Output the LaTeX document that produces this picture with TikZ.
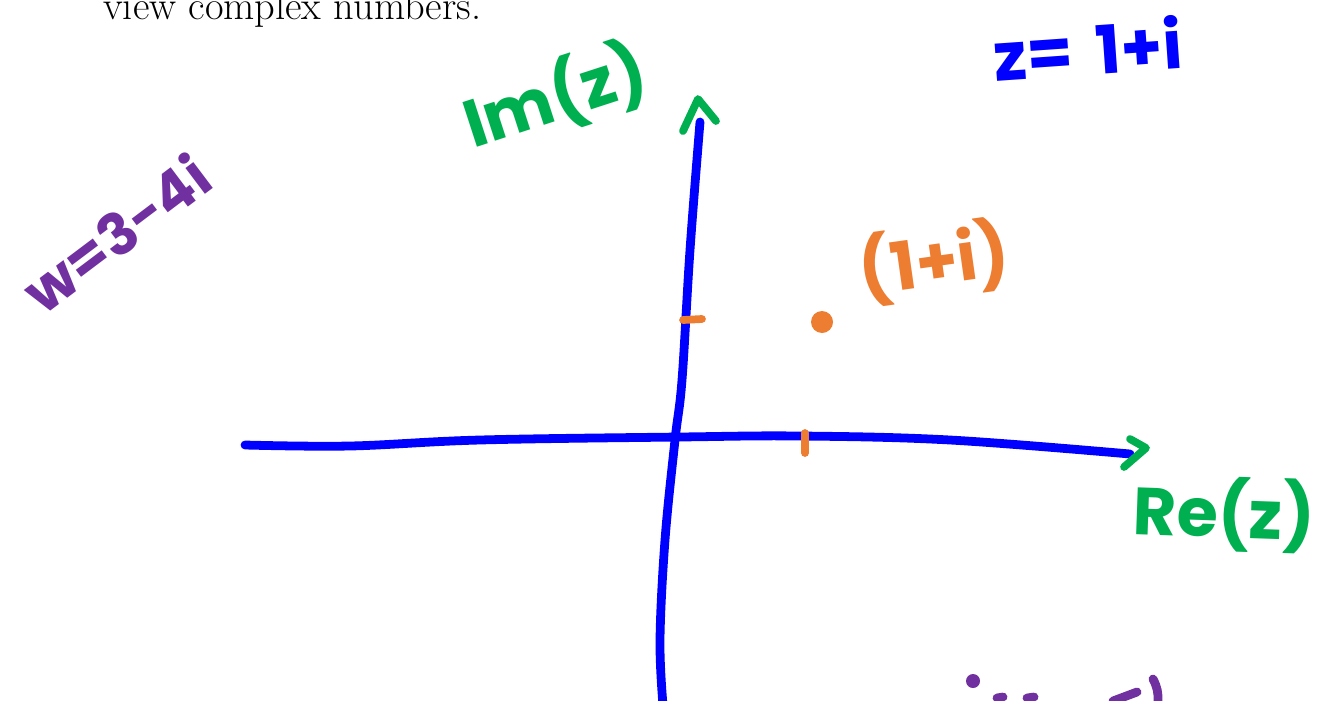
\documentclass[tikz,border=0pt]{standalone}
\usepackage{fontspec}
\newfontfamily\hand{Poppins}
\usetikzlibrary{positioning}
\definecolor{inkblue}{HTML}{0000FF}
\definecolor{inkgreen}{HTML}{00B050}
\definecolor{inkorange}{HTML}{ED7D31}
\definecolor{inkpurple}{HTML}{7030A0}
\tikzset{
  axisline/.style={draw=inkblue, line width=5pt, line cap=round, line join=round},
  tipmark/.style={draw=inkgreen, line width=4.4pt, line cap=round, line join=round},
  tickmark/.style={draw=inkorange, line width=4.4pt, line cap=round},
  handlbl/.style={font=\hand\bfseries\fontsize{38}{42}\selectfont, inner sep=0pt},
  scrap/.style={draw=inkpurple, line width=5pt, line cap=round},
}

\begin{document}
\begin{tikzpicture}[x=0.02cm, y=-0.02cm]
    \useasboundingbox (0,0) rectangle (1321,700);
    \clip (0,0) rectangle (1321,700);

    % text line cut by the top edge
    \node[anchor=base west, inner sep=0pt, font=\fontsize{23}{27}\selectfont] (cap) at (103,19) {view complex numbers.};

    % axes
    \coordinate (xl) at (245,445);
    \coordinate (xr) at (1130,454);
    \coordinate (yt) at (700,122);
    \coordinate (yb) at (663,705);
    \draw[axisline] plot[smooth, tension=0.6] coordinates {(xl) (350,446) (480,440) (680,437) (800,436) (950,440) (xr)};
    \draw[axisline] plot[smooth, tension=0.6] coordinates {(yt) (690,250) (682,380) (675,440) (665,540) (660,640) (yb)};

    % hand drawn tips
    \draw[tipmark] (1130,439) -- (1146,448) -- (1124,467);
    \draw[tipmark] (683,131) -- (698,99) -- (716,121);

    % ticks and point
    \draw[tickmark] (683,320) -- (702,319);
    \draw[tickmark] (805,433) -- (805,453);
    \node[circle, fill=inkorange, inner sep=0pt, minimum size=0.44cm] (pt) at (822,322) {};

    % labels
    \node[handlbl, text=inkgreen, rotate=18] (imlbl) at (555,97) {Im(z)};
    \node[handlbl, text=inkgreen, rotate=-2] (relbl) at (1224,514) {Re(z)};
    \node[handlbl, text=inkblue, rotate=4] (zdef) at (1088,48) {z=\,\,1+i};
    \node[handlbl, text=inkorange, rotate=8] (ptlbl) at (934,262) {(1+i)};
    \node[handlbl, text=inkpurple, rotate=37, font=\hand\bfseries\fontsize{33}{37}\selectfont] (wdef) at (116,233) {w=3-4i};

    % purple scraps at the bottom edge
    \fill[inkpurple] (973,681) circle (7);
    \draw[scrap] (997,698) -- (1003,697);
    \draw[scrap] (1027,698) -- (1034,697);
    \draw[scrap] (1113,701) -- (1137,692);
    \draw[scrap] (1153,679) to[bend left=15] (1158,702);
\end{tikzpicture}
\end{document}
